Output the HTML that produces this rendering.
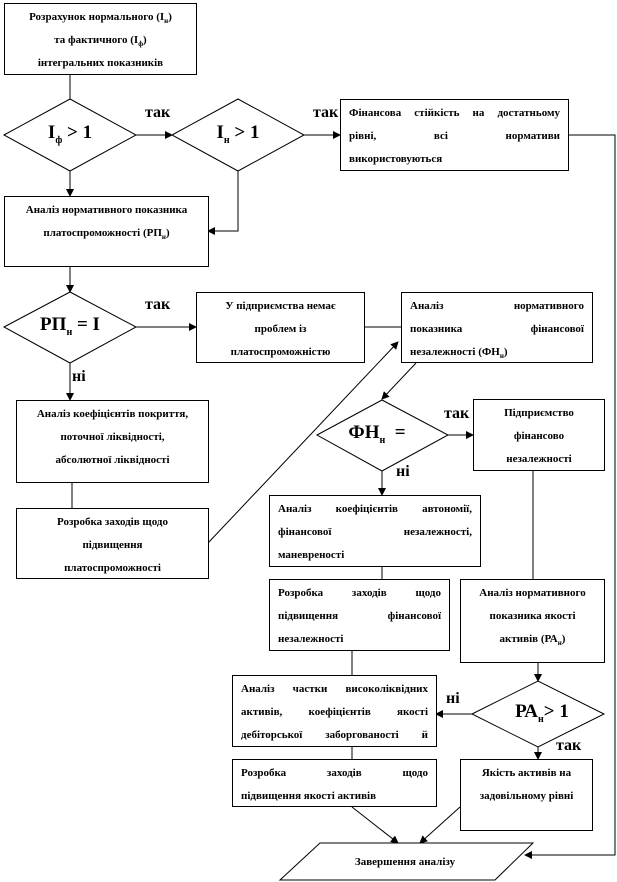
<!DOCTYPE html>
<html><head><meta charset="utf-8"><style>
body{margin:0;background:#fff;width:617px;height:882px;position:relative;overflow:hidden;font-family:"Liberation Serif","Times New Roman",serif;}
.b{position:absolute;border:1px solid #000;box-sizing:border-box;font-weight:bold;font-size:11px;line-height:23px;padding:2px 8px;text-align:center;background:#fff;white-space:nowrap;font-family:"Liberation Serif",serif}
.b div{height:23px}
.jl{text-align:justify;text-align-last:justify}
.ll{text-align:left}
.l{position:absolute;font-weight:bold;font-size:16px}
.d{position:absolute;font-size:19px;font-weight:bold;text-align:center}
svg{position:absolute;left:0;top:0}
</style></head><body>
<svg width="617" height="882">
<defs><marker id="a" markerWidth="8" markerHeight="8" refX="7" refY="4" orient="auto" markerUnits="userSpaceOnUse"><path d="M0,0L8,4L0,8z"/></marker></defs>
<g stroke="#000" fill="none" stroke-width="1">
<polygon points="4,135 70,99 136,135 70,171" fill="#fff"/>
<polygon points="172,135 238,99 304,135 238,171" fill="#fff"/>
<polygon points="4,327 70,292 136,327 70,363" fill="#fff"/>
<polygon points="317,435 382,400 448,435 382,471" fill="#fff"/>
<polygon points="472,714 538,681 604,714 538,747" fill="#fff"/>
<polygon points="320,843 533,843 495,880 280,880" fill="#fff"/>
<line x1="70" y1="75" x2="70" y2="99"/>
<line x1="136" y1="135" x2="172" y2="135" marker-end="url(#a)"/>
<line x1="304" y1="135" x2="340" y2="135" marker-end="url(#a)"/>
<line x1="70" y1="171" x2="70" y2="196" marker-end="url(#a)"/>
<polyline points="238,171 238,231 208,231" marker-end="url(#a)"/>
<polyline points="568,135 615,135 615,855 525,855" marker-end="url(#a)"/>
<line x1="70" y1="267" x2="70" y2="292" marker-end="url(#a)"/>
<line x1="136" y1="327" x2="196" y2="327" marker-end="url(#a)"/>
<line x1="364" y1="327" x2="401" y2="327"/>
<line x1="70" y1="363" x2="70" y2="400" marker-end="url(#a)"/>
<line x1="72" y1="483" x2="72" y2="508"/>
<line x1="208" y1="543" x2="398" y2="342" marker-end="url(#a)"/>
<line x1="416" y1="363" x2="382" y2="399" marker-end="url(#a)"/>
<line x1="448" y1="435" x2="473" y2="435" marker-end="url(#a)"/>
<line x1="382" y1="471" x2="382" y2="495" marker-end="url(#a)"/>
<line x1="382" y1="567" x2="382" y2="579"/>
<line x1="533" y1="471" x2="533" y2="579"/>
<line x1="352" y1="651" x2="352" y2="675"/>
<line x1="538" y1="663" x2="538" y2="681" marker-end="url(#a)"/>
<line x1="472" y1="714" x2="436" y2="714" marker-end="url(#a)"/>
<line x1="538" y1="747" x2="538" y2="759" marker-end="url(#a)"/>
<line x1="352" y1="747" x2="352" y2="759"/>
<line x1="352" y1="807" x2="398" y2="843" marker-end="url(#a)"/>
<line x1="460" y1="807" x2="420" y2="843" marker-end="url(#a)"/>
</g></svg>
<div class="b" style="left:4px;top:3px;width:193px;height:72px"><div>Розрахунок нормального (I<sub style="font-size:7px">н</sub>)</div><div>та фактичного (I<sub style="font-size:7px">ф</sub>)</div><div>інтегральних показників</div></div>
<div class="d" style="left:4px;top:122px;width:132px">I<sub style="font-size:10px">ф</sub> &gt; 1</div>
<div class="d" style="left:172px;top:122px;width:132px">I<sub style="font-size:10px">н</sub> &gt; 1</div>
<div class="l" style="left:145px;top:104px">так</div>
<div class="l" style="left:313px;top:104px">так</div>
<div class="b" style="left:340px;top:99px;width:229px;height:72px"><div class="jl">Фінансова стійкість на достатньому</div><div class="jl">рівні, всі нормативи</div><div class="ll">використовуються</div></div>
<div class="b" style="left:4px;top:196px;width:205px;height:71px"><div>Аналіз нормативного показника</div><div>платоспроможності (РП<sub style="font-size:7px">н</sub>)</div></div>
<div class="d" style="left:4px;top:314px;width:132px">РП<sub style="font-size:10px">н</sub> = I</div>
<div class="l" style="left:145px;top:296px">так</div>
<div class="l" style="left:72px;top:368px">ні</div>
<div class="b" style="left:196px;top:292px;width:169px;height:71px"><div>У підприємства немає</div><div>проблем із</div><div>платоспроможністю</div></div>
<div class="b" style="left:401px;top:292px;width:192px;height:71px"><div class="jl">Аналіз нормативного</div><div class="jl">показника фінансової</div><div class="ll">незалежності (ФН<sub style="font-size:7px">н</sub>)</div></div>
<div class="b" style="left:16px;top:400px;width:193px;height:83px"><div>Аналіз коефіцієнтів покриття,</div><div>поточної ліквідності,</div><div>абсолютної ліквідності</div></div>
<div class="b" style="left:16px;top:508px;width:193px;height:71px"><div>Розробка заходів щодо</div><div>підвищення</div><div>платоспроможності</div></div>
<div class="d" style="left:317px;top:422px;width:120px">ФН<sub style="font-size:10px">н</sub> &nbsp;=</div>
<div class="l" style="left:444px;top:405px">так</div>
<div class="l" style="left:396px;top:463px">ні</div>
<div class="b" style="left:473px;top:399px;width:132px;height:72px"><div>Підприємство</div><div>фінансово</div><div>незалежності</div></div>
<div class="b" style="left:269px;top:495px;width:212px;height:72px"><div class="jl">Аналіз коефіцієнтів автономії,</div><div class="jl">фінансової незалежності,</div><div class="ll">маневреності</div></div>
<div class="b" style="left:269px;top:579px;width:181px;height:72px"><div class="jl">Розробка заходів щодо</div><div class="jl">підвищення фінансової</div><div class="ll">незалежності</div></div>
<div class="b" style="left:460px;top:579px;width:145px;height:84px"><div>Аналіз нормативного</div><div>показника якості</div><div>активів (РА<sub style="font-size:7px">н</sub>)</div></div>
<div class="b" style="left:232px;top:675px;width:205px;height:72px"><div class="jl">Аналіз частки високоліквідних</div><div class="jl">активів, коефіцієнтів якості</div><div class="jl">дебіторської заборгованості й</div></div>
<div class="d" style="left:492px;top:701px;width:100px">РА<sub style="font-size:10px">н</sub>&gt; 1</div>
<div class="l" style="left:446px;top:690px">ні</div>
<div class="l" style="left:556px;top:737px">так</div>
<div class="b" style="left:232px;top:759px;width:205px;height:48px"><div class="jl">Розробка заходів щодо</div><div class="ll">підвищення якості активів</div></div>
<div class="b" style="left:460px;top:759px;width:133px;height:72px"><div>Якість активів на</div><div>задовільному рівні</div></div>
<div class="b" style="left:300px;top:850px;width:210px;height:24px;border:none;background:none;line-height:20px">Завершення аналізу</div>
</body></html>
